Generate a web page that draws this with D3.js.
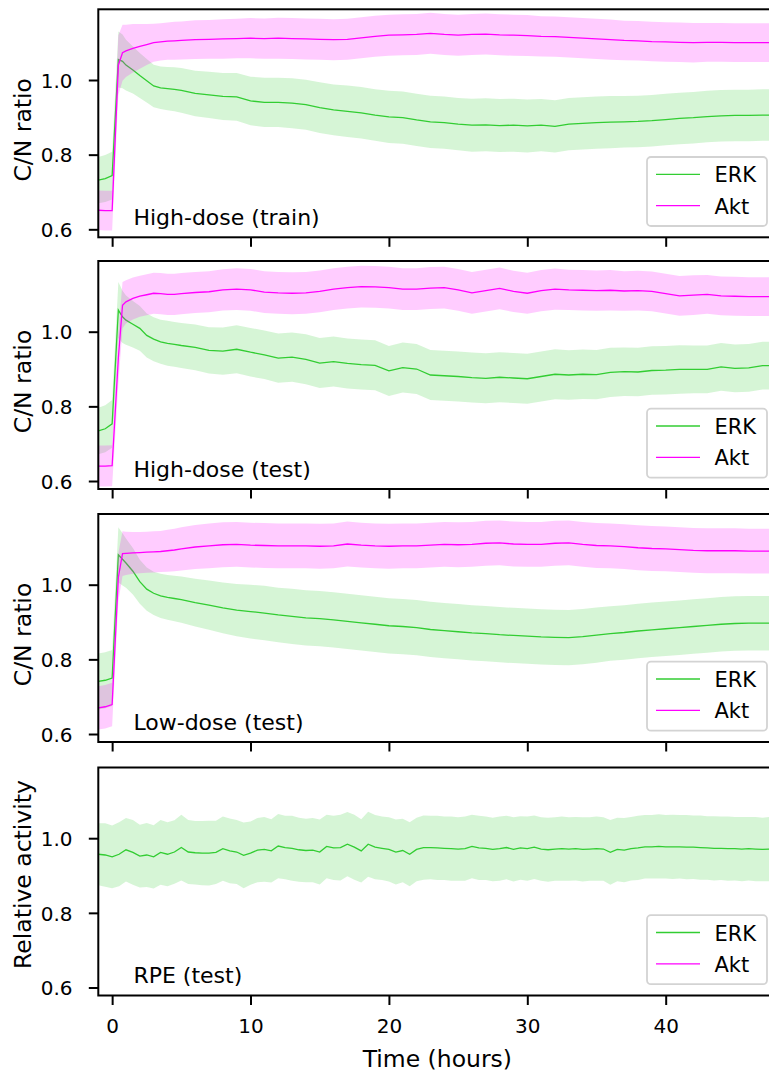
<!DOCTYPE html>
<html><head><meta charset="utf-8">
<script src="https://cdn.jsdelivr.net/npm/d3@7"></script>
<style>
body{margin:0;background:#fff}
svg{display:block}
text{font-family:"DejaVu Sans",sans-serif;fill:#000}
</style>
</head><body>
<svg id="c" width="769" height="1075"></svg>
<script>
// ---------------- DATA ----------------
const panelNames = ["High-dose (train)", "High-dose (test)", "Low-dose (test)", "RPE (test)"];
const yLabels = ["C/N ratio", "C/N ratio", "C/N ratio", "Relative activity"];
const seriesNames = ["ERK", "Akt"];
const xTicks = [0, 10, 20, 30, 40];
const yTicks = [0.6, 0.8, 1.0];
const xLabel = "Time (hours)";

const times = [-1,-0.5,0,0.45,0.75,1,1.5,2,2.5,3,3.5,4,4.5,5,
  6,7,8,9,10,11,12,13,14,15,
  16,17,18,19,20,21,22,23,24,25,
  26,27,28,29,30,31,32,33,34,35,
  36,37,38,39,40,41,42,43,44,45,
  46,47,48];

const erkMean1 = [0.732,0.736,0.744,1.055,1.050,1.040,1.027,1.012,0.998,0.984,0.979,0.977,0.975,0.972,
  0.964,0.960,0.956,0.955,0.944,0.940,0.940,0.938,0.934,0.926,
  0.920,0.916,0.912,0.906,0.901,0.899,0.893,0.888,0.886,0.882,
  0.879,0.880,0.878,0.879,0.877,0.879,0.876,0.882,0.884,0.886,
  0.887,0.888,0.889,0.891,0.894,0.897,0.899,0.902,0.904,0.905,
  0.905,0.906,0.906];
const erkSd1 = [0.062,0.063,0.064,0.075,0.072,0.068,0.063,0.060,0.058,0.057,0.057,0.058,0.059,0.060,
  0.061,0.062,0.063,0.064,0.065,0.066,0.066,0.067,0.067,0.068,
  0.068,0.069,0.069,0.069,0.070,0.070,0.070,0.070,0.070,0.070,
  0.071,0.071,0.071,0.071,0.071,0.070,0.070,0.070,0.070,0.070,
  0.070,0.069,0.069,0.069,0.069,0.069,0.069,0.069,0.069,0.069,
  0.069,0.069,0.069];
const aktMean1 = [0.651,0.650,0.650,1.040,1.073,1.078,1.085,1.090,1.095,1.100,1.102,1.104,1.105,1.106,
  1.108,1.109,1.110,1.111,1.112,1.111,1.112,1.111,1.110,1.109,
  1.108,1.109,1.113,1.117,1.120,1.121,1.122,1.125,1.122,1.120,
  1.122,1.123,1.121,1.120,1.119,1.117,1.116,1.114,1.112,1.110,
  1.108,1.106,1.105,1.103,1.102,1.101,1.100,1.101,1.101,1.100,
  1.100,1.100,1.100];
const aktSd1 = [0.053,0.053,0.053,0.080,0.075,0.070,0.065,0.060,0.055,0.051,0.050,0.050,0.051,0.051,
  0.052,0.052,0.053,0.053,0.054,0.054,0.055,0.055,0.055,0.055,
  0.055,0.055,0.055,0.055,0.055,0.055,0.055,0.055,0.055,0.055,
  0.055,0.055,0.055,0.055,0.055,0.054,0.054,0.054,0.054,0.054,
  0.054,0.053,0.053,0.053,0.053,0.053,0.053,0.052,0.052,0.052,
  0.052,0.052,0.052];

const erkMean2 = [0.734,0.740,0.753,1.058,1.040,1.031,1.020,1.009,0.990,0.980,0.973,0.969,0.966,0.963,
  0.958,0.950,0.948,0.953,0.945,0.938,0.929,0.932,0.926,0.916,
  0.920,0.915,0.912,0.910,0.895,0.904,0.900,0.884,0.882,0.880,
  0.877,0.875,0.878,0.876,0.874,0.880,0.886,0.884,0.886,0.885,
  0.891,0.893,0.892,0.896,0.897,0.899,0.899,0.899,0.906,0.902,
  0.903,0.909,0.909];
const erkSd2 = [0.062,0.063,0.064,0.075,0.070,0.066,0.062,0.060,0.059,0.059,0.059,0.060,0.060,0.060,
  0.061,0.062,0.063,0.064,0.065,0.065,0.066,0.066,0.067,0.067,
  0.067,0.067,0.067,0.067,0.067,0.067,0.067,0.067,0.067,0.067,
  0.067,0.067,0.067,0.067,0.067,0.067,0.067,0.066,0.066,0.066,
  0.066,0.065,0.065,0.065,0.065,0.065,0.064,0.064,0.064,0.064,
  0.064,0.064,0.064];
const aktMean2 = [0.640,0.640,0.641,0.930,1.071,1.080,1.089,1.095,1.099,1.103,1.102,1.100,1.100,1.102,
  1.105,1.107,1.112,1.114,1.112,1.106,1.104,1.103,1.104,1.108,
  1.114,1.118,1.121,1.120,1.118,1.114,1.114,1.117,1.118,1.112,
  1.104,1.110,1.116,1.108,1.103,1.110,1.114,1.112,1.111,1.110,
  1.111,1.109,1.110,1.108,1.102,1.096,1.098,1.100,1.096,1.095,
  1.094,1.094,1.094];
const aktSd2 = [0.055,0.055,0.055,0.070,0.062,0.058,0.056,0.055,0.055,0.055,0.055,0.055,0.055,0.055,
  0.055,0.055,0.055,0.056,0.056,0.056,0.056,0.056,0.056,0.056,
  0.056,0.056,0.056,0.056,0.056,0.056,0.056,0.056,0.056,0.056,
  0.056,0.056,0.056,0.055,0.055,0.055,0.055,0.054,0.054,0.054,
  0.054,0.053,0.053,0.053,0.053,0.053,0.053,0.052,0.052,0.052,
  0.052,0.052,0.052];

const erkMean3 = [0.741,0.744,0.750,1.080,1.068,1.058,1.036,1.008,0.988,0.977,0.970,0.966,0.963,0.960,
  0.952,0.945,0.938,0.932,0.928,0.924,0.919,0.915,0.911,0.909,
  0.906,0.902,0.898,0.894,0.890,0.888,0.885,0.880,0.877,0.874,
  0.871,0.869,0.866,0.864,0.862,0.860,0.859,0.858,0.861,0.865,
  0.869,0.872,0.876,0.879,0.882,0.885,0.888,0.891,0.894,0.896,
  0.897,0.897,0.897];
const erkSd3 = [0.075,0.075,0.075,0.074,0.070,0.066,0.062,0.059,0.058,0.058,0.059,0.060,0.061,0.062,
  0.064,0.066,0.068,0.070,0.072,0.073,0.073,0.074,0.074,0.074,
  0.074,0.074,0.074,0.074,0.074,0.074,0.074,0.074,0.074,0.074,
  0.074,0.074,0.074,0.074,0.074,0.074,0.074,0.074,0.074,0.074,
  0.073,0.073,0.073,0.073,0.073,0.073,0.073,0.073,0.073,0.073,
  0.073,0.073,0.073];
const aktMean3 = [0.670,0.673,0.679,1.020,1.083,1.084,1.085,1.086,1.087,1.088,1.089,1.091,1.093,1.096,
  1.101,1.104,1.107,1.108,1.106,1.105,1.104,1.104,1.104,1.103,
  1.104,1.109,1.106,1.104,1.103,1.104,1.104,1.106,1.108,1.107,
  1.108,1.111,1.112,1.109,1.108,1.108,1.111,1.112,1.108,1.105,
  1.104,1.102,1.099,1.097,1.096,1.094,1.092,1.091,1.091,1.091,
  1.090,1.090,1.090];
const aktSd3 = [0.058,0.058,0.058,0.065,0.060,0.058,0.056,0.055,0.055,0.055,0.055,0.056,0.057,0.058,
  0.059,0.060,0.060,0.060,0.060,0.060,0.060,0.060,0.060,0.060,
  0.060,0.060,0.060,0.060,0.060,0.060,0.060,0.060,0.060,0.060,
  0.060,0.060,0.060,0.060,0.060,0.060,0.060,0.060,0.060,0.060,
  0.060,0.060,0.060,0.060,0.060,0.060,0.060,0.060,0.060,0.060,
  0.060,0.060,0.060];

const rpeTimes = [-1,-0.5,0,0.5,1,1.5,2,2.5,3,3.5,
  4,4.5,5,5.5,6,6.5,7,7.5,8,8.5,
  9,9.5,10,10.5,11,11.5,12,12.5,13,13.5,
  14,14.5,15,15.5,16,16.5,17,17.5,18,18.5,
  19,19.5,20,20.5,21,21.5,22,22.5,23,23.5,
  24,24.5,25,25.5,26,26.5,27,27.5,28,28.5,
  29,29.5,30,30.5,31,31.5,32,32.5,33,33.5,
  34,34.5,35,35.5,36,36.5,37,37.5,38,38.5,
  39,39.5,40,40.5,41,41.5,42,42.5,43,43.5,
  44,44.5,45,45.5,46,46.5,47,47.5,48];
const rpeErkMean = [0.957,0.955,0.950,0.957,0.969,0.962,0.952,0.955,0.950,0.962,
  0.957,0.963,0.975,0.963,0.961,0.960,0.960,0.962,0.972,0.966,
  0.963,0.954,0.960,0.968,0.970,0.966,0.979,0.975,0.973,0.969,
  0.967,0.968,0.963,0.978,0.974,0.975,0.984,0.976,0.966,0.984,
  0.976,0.973,0.970,0.963,0.967,0.957,0.970,0.975,0.975,0.974,
  0.973,0.972,0.971,0.972,0.978,0.974,0.973,0.970,0.972,0.975,
  0.970,0.974,0.972,0.976,0.971,0.969,0.971,0.972,0.971,0.972,
  0.970,0.971,0.972,0.971,0.962,0.970,0.968,0.972,0.974,0.977,
  0.977,0.978,0.977,0.977,0.977,0.976,0.976,0.975,0.974,0.973,
  0.973,0.972,0.972,0.971,0.972,0.971,0.970,0.971,0.970];
const rpeErkSd = [0.083,0.085,0.084,0.086,0.085,0.087,0.084,0.086,0.085,0.087,
  0.086,0.085,0.088,0.086,0.085,0.086,0.087,0.085,0.086,0.087,
  0.086,0.088,0.085,0.086,0.087,0.085,0.086,0.085,0.087,0.086,
  0.085,0.086,0.087,0.085,0.086,0.088,0.086,0.087,0.085,0.087,
  0.086,0.085,0.086,0.087,0.085,0.086,0.085,0.086,0.085,0.086,
  0.085,0.086,0.085,0.086,0.085,0.086,0.085,0.085,0.086,0.085,
  0.086,0.085,0.086,0.085,0.085,0.086,0.085,0.086,0.085,0.085,
  0.086,0.085,0.086,0.085,0.087,0.085,0.086,0.085,0.086,0.085,
  0.085,0.086,0.085,0.086,0.085,0.086,0.085,0.086,0.085,0.086,
  0.085,0.086,0.085,0.086,0.085,0.086,0.085,0.086,0.085];

// ---------------- LAYOUT ----------------
const xLeft = 98.3, xRight = 776.4, panelH = 228;
const panelTops = [9.3, 261, 514, 767.5];
const yLabelShift = [6.5, 6.5, 6.5, -7];
const colors = {ERK: "#32cd32", Akt: "#ff00ff"};

const panels = [
  {t: times, series: [{name: "ERK", mean: erkMean1, sd: erkSd1}, {name: "Akt", mean: aktMean1, sd: aktSd1}]},
  {t: times, series: [{name: "ERK", mean: erkMean2, sd: erkSd2}, {name: "Akt", mean: aktMean2, sd: aktSd2}]},
  {t: times, series: [{name: "ERK", mean: erkMean3, sd: erkSd3}, {name: "Akt", mean: aktMean3, sd: aktSd3}]},
  {t: rpeTimes, series: [{name: "ERK", mean: rpeErkMean, sd: rpeErkSd}]}
];

const svg = d3.select("#c");
const x = d3.scaleLinear().domain([-1, 48]).range([xLeft, xRight]);

panels.forEach((p, i) => {
  const top = panelTops[i];
  const y = d3.scaleLinear().domain([0.5786, 1.1894]).range([top + panelH, top]);
  const clipId = "clip" + i;
  svg.append("clipPath").attr("id", clipId).append("rect")
    .attr("x", xLeft).attr("y", top).attr("width", xRight - xLeft).attr("height", panelH);
  const g = svg.append("g").attr("clip-path", `url(#${clipId})`);

  p.series.forEach(s => {
    const pts = p.t.map((t, k) => ({t, m: s.mean[k], sd: s.sd[k]}))
      .filter(d => d.m != null && d.sd != null);
    g.append("path").datum(pts)
      .attr("d", d3.line().x(d => x(d.t)).y(d => y(d.m)))
      .attr("fill", "none").attr("stroke", colors[s.name]).attr("stroke-width", 1.3);
    g.append("path").datum(pts)
      .attr("d", d3.area().x(d => x(d.t)).y0(d => y(d.m - d.sd)).y1(d => y(d.m + d.sd)))
      .attr("fill", colors[s.name]).attr("fill-opacity", 0.2).attr("stroke", "none");
  });

  // y axis
  const ya = svg.append("g").attr("transform", `translate(${xLeft},0)`)
    .call(d3.axisLeft(y).tickValues(yTicks).tickSize(9.5).tickSizeOuter(0).tickPadding(16.3)
      .tickFormat(d3.format(".1f")));
  ya.select(".domain").remove();
  ya.selectAll(".tick line").attr("stroke", "#000").attr("stroke-width", 2);
  ya.selectAll(".tick text").attr("font-size", 20).attr("font-family", "DejaVu Sans").attr("dy", "0.36em");

  // x axis
  const xa = svg.append("g").attr("transform", `translate(0,${top + panelH})`)
    .call(d3.axisBottom(x).tickValues(xTicks).tickSize(9.5).tickSizeOuter(0).tickPadding(13.8));
  xa.select(".domain").remove();
  xa.selectAll(".tick line").attr("stroke", "#000").attr("stroke-width", 2);
  xa.selectAll(".tick text").attr("font-size", 20).attr("font-family", "DejaVu Sans");
  if (i < panels.length - 1) xa.selectAll(".tick text").remove();

  // spines
  svg.append("rect").attr("x", xLeft).attr("y", top).attr("width", xRight - xLeft).attr("height", panelH)
    .attr("fill", "none").attr("stroke", "#000").attr("stroke-width", 2);

  // y label
  const cy = top + panelH / 2 + yLabelShift[i];
  svg.append("text").attr("transform", `translate(31,${cy}) rotate(-90)`)
    .attr("text-anchor", "middle").attr("font-size", 23.5).text(yLabels[i]);

  // panel annotation
  svg.append("text").attr("x", 133.4).attr("y", top + 215.5).attr("font-size", 22).text(panelNames[i]);

  // legend
  const lg = svg.append("g");
  lg.append("rect").attr("x", 647).attr("y", top + 147.7).attr("width", 120).attr("height", 69)
    .attr("rx", 4).attr("fill", "#fff").attr("fill-opacity", 0.8)
    .attr("stroke", "#d3d3d3").attr("stroke-width", 1.8);
  seriesNames.forEach((nm, k) => {
    const ly = top + 165 + k * 31.4;
    lg.append("line").attr("x1", 656).attr("x2", 700).attr("y1", ly).attr("y2", ly)
      .attr("stroke", colors[nm]).attr("stroke-width", 1.3);
    lg.append("text").attr("x", 714.5).attr("y", top + 173 + k * 31.2).attr("font-size", 21).text(nm);
  });
});

svg.append("text").attr("x", (xLeft + xRight) / 2).attr("y", 1067).attr("text-anchor", "middle")
  .attr("font-size", 23.5).text(xLabel);
</script>
</body></html>
